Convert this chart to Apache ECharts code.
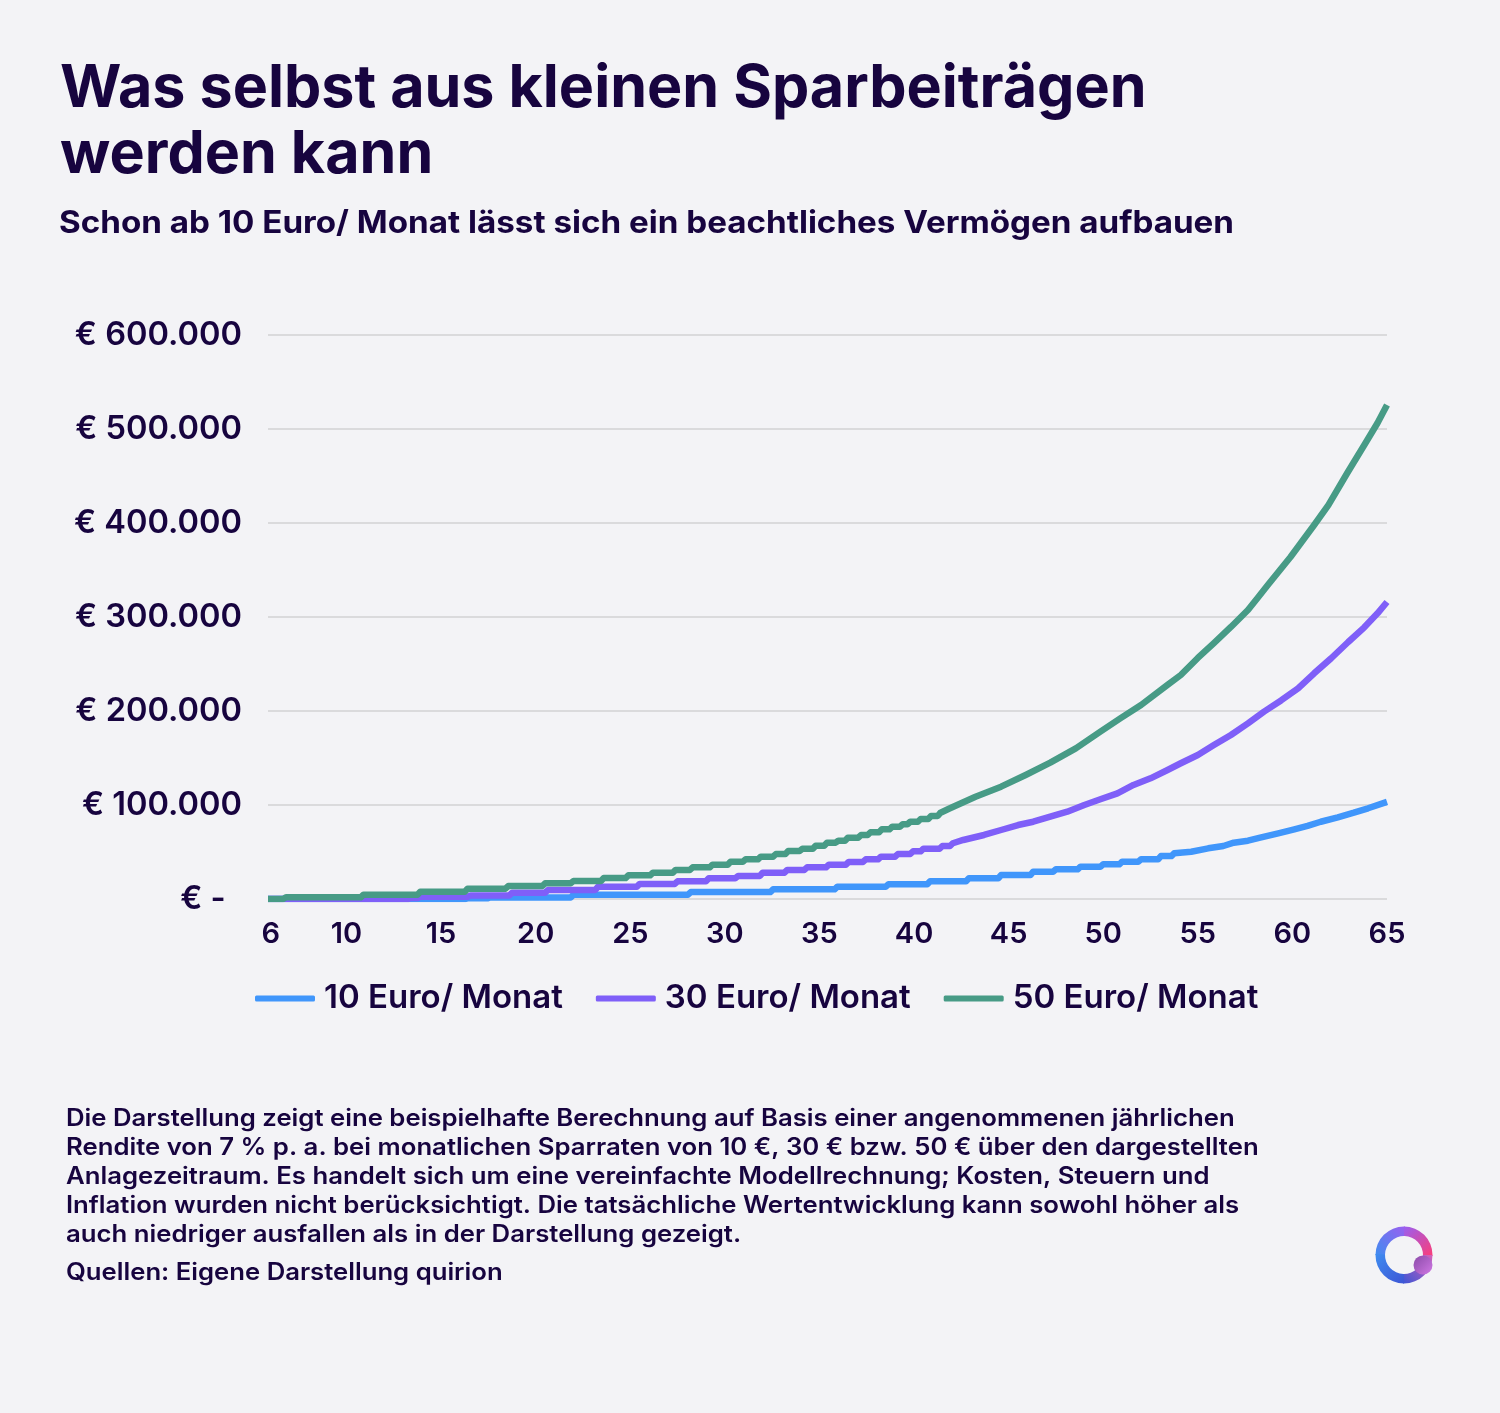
<!DOCTYPE html>
<html>
<head>
<meta charset="utf-8">
<style>
  html, body { margin: 0; padding: 0; background: #f3f3f6; }
  #chart { width: 1500px; height: 1413px; }
</style>
<script src="https://cdn.jsdelivr.net/npm/echarts@6/dist/echarts.min.js"></script>
</head>
<body>
<div id="chart"></div>
<script>
var seriesNames = ['10 Euro/ Monat', '30 Euro/ Monat', '50 Euro/ Monat'];
var xLabels = [6, 10, 15, 20, 25, 30, 35, 40, 45, 50, 55, 60, 65];

// Werte (Alter / Tausend Euro)
var ages10 = [5.85, 16.4, 17.6, 22, 28.2, 32.55, 35.95, 38.65, 40.85, 42.9, 44.6, 46.3, 47.5, 48.8, 50, 51, 52, 53.05, 53.75, 54.65, 55.55, 56.35, 56.9, 57.65, 58.35, 59.25, 60.1, 60.8, 61.5, 62.4, 63.25, 64, 65];
var values10 = [0, 0.7, 1.6, 4.6, 7.4, 10.3, 13.1, 15.6, 18.8, 22, 25.5, 29, 31.6, 34.4, 36.9, 39.7, 42.2, 45.7, 48.6, 50.3, 53.9, 56.4, 59.9, 62, 65.6, 69.9, 74.1, 77.7, 82.2, 86.9, 91.8, 96.5, 103.4];

var ages30 = [5.85, 13.4, 13.9, 16.55, 18.75, 20.65, 23.3, 25.5, 27.5, 29.15, 30.7, 32, 33.3, 34.35, 35.5, 36.55, 37.45, 38.25, 39.15, 39.95, 40.5, 41.5, 42.05, 42.6, 43.7, 44.6, 45.5, 46.3, 47.2, 48.1, 49, 49.85, 50.75, 51.6, 52.5, 53.4, 54.1, 55, 55.85, 56.75, 57.65, 58.5, 59.4, 60.3, 61.15, 62.05, 62.95, 63.8, 64.5, 65];
var values30 = [0, 1.1, 2.4, 3.7, 6.7, 9.6, 13.1, 16, 18.8, 22, 24.5, 28, 30.9, 33.7, 36.5, 39.4, 42.2, 45, 47.9, 50.7, 53.5, 56.4, 59.3, 62.8, 68.1, 73.4, 78.7, 82.2, 87.6, 92.9, 100, 106.1, 112.4, 121.3, 128.4, 137.2, 144.4, 153.2, 163.8, 174.5, 186.9, 199.3, 211.2, 224.1, 240.1, 256.1, 273.4, 289, 303.9, 316];

var ages50 = [5.85, 6.8, 10.9, 13.9, 16.4, 18.55, 20.5, 22, 23.6, 24.9, 26.2, 27.4, 28.3, 29.35, 30.3, 31.1, 31.9, 32.7, 33.35, 34.1, 34.8, 35.4, 36, 36.5, 37.2, 37.7, 38.3, 38.85, 39.4, 39.8, 40.35, 40.9, 41.4, 41.9, 43.25, 44.6, 45.9, 47.2, 48.55, 49.85, 50.9, 52, 53.4, 54.1, 55, 55.85, 56.75, 57.65, 58.2, 58.7, 59.9, 61.15, 61.9, 62.9, 63.8, 64.5, 65];
var values50 = [0, 1.8, 4.6, 7.8, 11, 13.8, 16.7, 19.1, 22.3, 25.2, 28, 30.9, 33.7, 36.5, 39.7, 42.2, 45, 47.9, 51, 53.5, 56.7, 59.9, 62, 65.2, 68.1, 71, 74.1, 76.9, 79.5, 82.2, 85.1, 88.3, 91.8, 96.5, 108.8, 119.5, 131.9, 145, 160.3, 178, 192.2, 206.4, 227.7, 238.3, 256.4, 272.3, 289.4, 307.5, 321.3, 334, 363.8, 397.9, 419.1, 453.2, 483, 506.4, 525.5];

var ink = '#17043f';
var bg = '#f3f3f6';
var colors = ['#4096fb', '#7f5ff8', '#479b86'];
var fontFamily = 'Inter';

var footLines = [
    'Die Darstellung zeigt eine beispielhafte Berechnung auf Basis einer angenommenen jährlichen',
    'Rendite von 7 % p. a. bei monatlichen Sparraten von 10 €, 30 € bzw. 50 € über den dargestellten',
    'Anlagezeitraum. Es handelt sich um eine vereinfachte Modellrechnung; Kosten, Steuern und',
    'Inflation wurden nicht berücksichtigt. Die tatsächliche Wertentwicklung kann sowohl höher als',
    'auch niedriger ausfallen als in der Darstellung gezeigt.'
];

// bis zum Alter "stairEnd" sind die Kurven im Original treppenförmig: Wert bis kurz vor dem Sprung halten
function buildLine(ages, values, stairEnd) {
    var out = [];
    for (var i = 0; i < ages.length; i++) {
        if (i > 0 && ages[i] <= stairEnd) {
            out.push([ages[i] - 0.15, values[i - 1] * 1000]);
        }
        out.push([ages[i], values[i] * 1000]);
    }
    return out;
}

function lineSeries(idx, data) {
    return {
        name: seriesNames[idx],
        type: 'line',
        data: data,
        showSymbol: false,
        symbol: 'none',
        silent: true,
        animation: false,
        lineStyle: { color: colors[idx], width: 6.5, cap: 'butt', join: 'round' },
        itemStyle: { color: colors[idx] }
    };
}

// Text mit Laufweite wie im Original (leicht gesperrt), daher scaleX
function wideText(text, x, y, font, scale) {
    return {
        type: 'text', x: x, y: y, scaleX: scale, silent: true,
        style: { text: text, fill: ink, font: font, verticalAlign: 'top' }
    };
}

// Logo-Ring aus vier Vierteln
function logoPart(start, end, x0, y0, x1, y1, c0, c1) {
    return {
        type: 'sector', silent: true,
        shape: { cx: 1404, cy: 1255, r: 28.5, r0: 19, startAngle: start, endAngle: end, clockwise: true },
        style: { fill: new echarts.graphic.LinearGradient(x0, y0, x1, y1, [
            { offset: 0, color: c0 }, { offset: 1, color: c1 }
        ]) }
    };
}

var chart = echarts.init(document.getElementById('chart'));

var footFont = '600 24px ' + fontFamily;
var texts = footLines.map(function (line, i) {
    return wideText(line, 66, 1107 + i * 29, footFont, 1.072);
});
texts.push(wideText('Quellen: Eigene Darstellung quirion', 66, 1261, footFont, 1.07));
texts.push(wideText('Schon ab 10 Euro/ Monat lässt sich ein beachtliches Vermögen aufbauen', 59, 208, '700 31px ' + fontFamily, 1.07));

var PI = Math.PI;
var logo = [
    logoPart(PI, 1.51 * PI, 0, 1, 1, 0, '#3f8cf0', '#9a5ff0'),
    logoPart(1.5 * PI, 2.01 * PI, 0, 0, 1, 1, '#9a5ff0', '#fb3d78'),
    logoPart(0, 0.51 * PI, 1, 0, 0, 1, '#d860b8', '#3c55d5'),
    logoPart(0.5 * PI, 1.01 * PI, 1, 1, 0, 0, '#3c55d5', '#3f8cf0'),
    {
        type: 'circle', silent: true,
        shape: { cx: 1423, cy: 1265, r: 9.5 },
        style: { fill: new echarts.graphic.LinearGradient(0, 0, 1, 1, [
            { offset: 0, color: '#8a4aa8' }, { offset: 1, color: '#d078e4' }
        ]) }
    }
];

chart.setOption({
    backgroundColor: bg,
    color: colors,
    animation: false,
    title: {
        text: 'Was selbst aus kleinen Sparbeiträgen\nwerden kann',
        left: 60,
        top: 56,
        padding: 0,
        textStyle: { color: ink, fontFamily: fontFamily, fontWeight: 700, fontSize: 59.2, lineHeight: 66 }
    },
    legend: {
        left: 255,
        top: 982,
        padding: 0,
        icon: 'roundRect',
        itemWidth: 60,
        itemHeight: 6,
        itemGap: 33,
        selectedMode: false,
        textStyle: { color: ink, fontFamily: fontFamily, fontWeight: 600, fontSize: 33, padding: [0, 0, 0, 4] },
        data: seriesNames
    },
    grid: { left: 268, right: 113, top: 335, height: 564, containLabel: false },
    xAxis: {
        type: 'value',
        min: 5.85,
        max: 65,
        splitLine: { show: false },
        axisLine: { show: false },
        axisTick: { show: false },
        axisLabel: {
            customValues: xLabels,
            margin: 21,
            color: ink,
            fontFamily: fontFamily,
            fontWeight: 600,
            fontSize: 29,
            showMinLabel: true,
            showMaxLabel: true
        }
    },
    yAxis: {
        type: 'value',
        min: 0,
        max: 600000,
        interval: 100000,
        splitLine: { lineStyle: { color: '#dadadc', width: 2 } },
        axisLine: { show: false },
        axisTick: { show: false },
        axisLabel: {
            margin: 26,
            color: ink,
            fontFamily: fontFamily,
            fontWeight: 600,
            fontSize: 32.6,
            formatter: function (v) {
                if (v === 0) return '€ -\u2002';
                return '€ ' + String(v / 1000) + '.000';
            }
        }
    },
    series: [
        lineSeries(0, buildLine(ages10, values10, 54)),
        lineSeries(1, buildLine(ages30, values30, 42.1)),
        lineSeries(2, buildLine(ages50, values50, 41.4))
    ],
    graphic: texts.concat(logo)
});
</script>
</body>
</html>
